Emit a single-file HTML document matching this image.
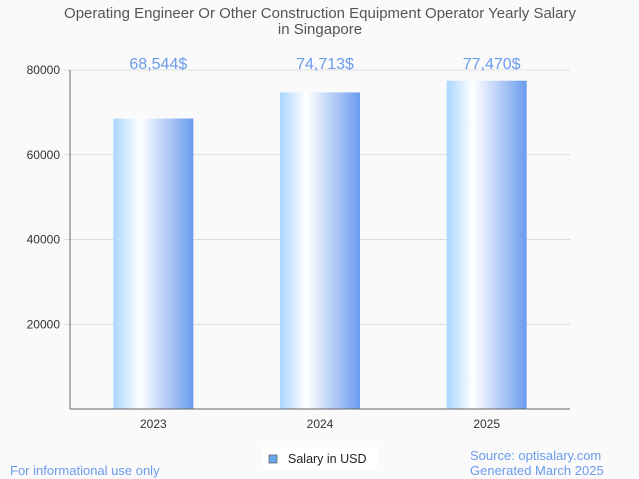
<!DOCTYPE html>
<html><head><meta charset="utf-8"><style>
body{margin:0;background:#fafafa;font-family:"Liberation Sans",sans-serif}
svg{display:block}
</style></head><body>
<svg width="639" height="479" xmlns="http://www.w3.org/2000/svg">
<defs><linearGradient id="g" x1="0" x2="1" y1="0" y2="0">
<stop offset="0" stop-color="#a9d6ff"/><stop offset="0.33" stop-color="#ffffff"/><stop offset="1" stop-color="#6a9bee"/>
</linearGradient></defs>
<rect width="639" height="479" fill="#fafafa"/>
<text x="320" y="18" text-anchor="middle" font-size="15" fill="#555">Operating Engineer Or Other Construction Equipment Operator Yearly Salary</text>
<text x="320" y="34" text-anchor="middle" font-size="15" fill="#555">in Singapore</text>
<g id="grid"></g><g id="bars"></g>
<line x1="70" y1="70" x2="70" y2="409" stroke="#666"/>
<line x1="70" y1="409" x2="570" y2="409" stroke="#666"/>
<rect x="263" y="447" width="114" height="23" fill="#fff"/>
<rect x="269" y="455" width="8" height="8" fill="#6aa6ee" stroke="#555" stroke-width="0.7"/>
<text x="288" y="463" font-size="12.5" fill="#222">Salary in USD</text>
<text x="10" y="475" font-size="13" fill="#6a9bee">For informational use only</text>
<text x="470" y="460" font-size="13" fill="#6a9bee">Source: optisalary.com</text>
<text x="470" y="475" font-size="13" fill="#6a9bee">Generated March 2025</text>
</svg>
<script>
const categories=["2023","2024","2025"];
const values=[68544,74713,77470];
const valueLabels=["68,544$","74,713$","77,470$"];
const yTicks=[20000,40000,60000,80000];
const NS="http://www.w3.org/2000/svg";
const y=v=>409-v/80000*339;
const bandX=i=>70+500/3*(i+0.5);
function mk(t,a,p){const e=document.createElementNS(NS,t);for(const k in a)e.setAttribute(k,a[k]);p.appendChild(e);return e;}
const grid=document.getElementById('grid'),bars=document.getElementById('bars');
yTicks.forEach(t=>{
 const l=mk('line',{x1:64,x2:570,y1:y(t),y2:y(t),stroke:'#ddd'},grid);
 
 
 const tx=mk('text',{x:60,y:y(t)+4,'text-anchor':'end','font-size':12,fill:'#333'},grid);
 tx.textContent=t;
 
 
});
categories.forEach((c,i)=>{
 const cx=bandX(i);
 const r=mk('rect',{x:cx-40,y:y(values[i]),width:80,height:409-y(values[i]),fill:'url(#g)'},bars);
 
 
 const v=mk('text',{x:cx+5,y:69,'text-anchor':'middle','font-size':16,fill:'#6a9bee'},bars);
 v.textContent=valueLabels[i];
 
 
 const xl=mk('text',{x:cx,y:428,'text-anchor':'middle','font-size':12,fill:'#333'},bars);
 xl.textContent=c;
 
 
});
</script>
</body></html>
